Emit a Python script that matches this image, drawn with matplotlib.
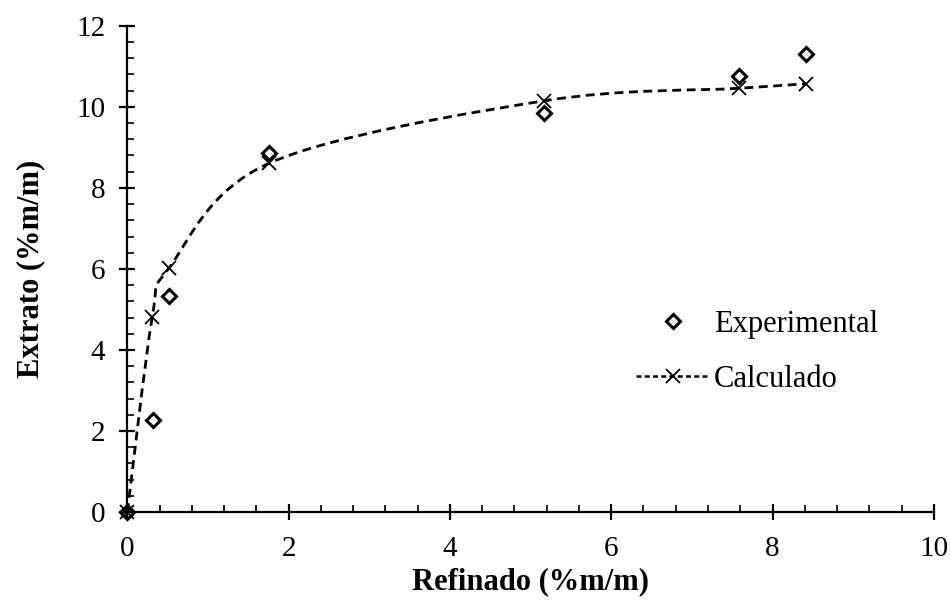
import numpy as np
import matplotlib
matplotlib.use("Agg")
import matplotlib.pyplot as plt
from matplotlib.path import Path
from matplotlib.patches import PathPatch
from matplotlib.lines import Line2D
from matplotlib.ticker import MultipleLocator

plt.rcParams['font.family'] = ['Liberation Serif', 'DejaVu Serif']

# data
x_exp = [0.0, 0.32, 0.52, 1.76, 5.17, 7.59, 8.41]
y_exp = [0.0, 2.27, 5.33, 8.85, 9.86, 10.75, 11.31]
x_calc = [0.0, 0.31, 0.52, 1.76, 5.17, 7.59, 8.41]
y_calc = [0.0, 4.82, 6.03, 8.61, 10.15, 10.46, 10.57]


def smooth_path(xs, ys):
    """Excel-like smoothed line: Catmull-Rom as cubic Bezier segments."""
    pts = np.column_stack([xs, ys])
    n = len(pts)
    verts = [pts[0]]
    codes = [Path.MOVETO]
    for i in range(n - 1):
        p0 = pts[i - 1] if i > 0 else pts[i]
        p1 = pts[i]
        p2 = pts[i + 1]
        p3 = pts[i + 2] if i + 2 < n else pts[i + 1]
        c1 = p1 + (p2 - p0) / 6.0
        c2 = p2 - (p3 - p1) / 6.0
        verts += [c1, c2, p2]
        codes += [Path.CURVE4] * 3
    return Path(verts, codes)


fig = plt.figure(figsize=(9.5, 6.01), dpi=100)
ax = fig.add_axes([0.134, 0.148, 0.849, 0.809])

curve = PathPatch(smooth_path(x_calc, y_calc), facecolor='none', edgecolor='black',
                  linewidth=2.0, linestyle=(0, (3.2, 2)))
ax.add_patch(curve)
ax.plot(x_calc, y_calc, ls='none', marker='x', ms=10, mew=1.3, color='black', clip_on=False)
ax.plot(x_exp, y_exp, ls='none', marker='D', ms=7, mew=2.2, mfc='none', color='black', clip_on=False)

ax.set_xlim(0, 10)
ax.set_ylim(0, 12)
ax.xaxis.set_major_locator(MultipleLocator(2))
ax.xaxis.set_minor_locator(MultipleLocator(0.4))
ax.yaxis.set_major_locator(MultipleLocator(2))
ax.yaxis.set_minor_locator(MultipleLocator(0.4))
for s in ['top', 'right']:
    ax.spines[s].set_visible(False)
for s in ['left', 'bottom']:
    ax.spines[s].set_linewidth(1.6)
ax.tick_params(which='major', direction='inout', length=12, width=1.6, labelsize=21)
ax.tick_params(axis='x', which='major', pad=11)
ax.tick_params(axis='y', which='major', pad=10)
ax.tick_params(which='minor', direction='in', length=5, width=1.2)
ax.patch.set_visible(False)

ax.set_xlabel('Refinado (%m/m)', fontsize=22, fontweight='bold', labelpad=4)
ax.set_ylabel('Extrato (%m/m)', fontsize=22, fontweight='bold', labelpad=22)

h_exp = Line2D([], [], ls='none', marker='D', ms=7, mew=2.2, mfc='none', color='black')
h_calc = Line2D([], [], ls=(0, (2, 1.3)), lw=1.8, marker='x', ms=10, mew=1.3, color='black')
ax.legend([h_exp, h_calc], ['Experimental', 'Calculado'], loc='upper left',
          bbox_to_anchor=(0.597, 0.472), frameon=False, fontsize=22,
          handlelength=2.4, handletextpad=0.15, labelspacing=0.85)

fig.savefig('out.png', dpi=100)
